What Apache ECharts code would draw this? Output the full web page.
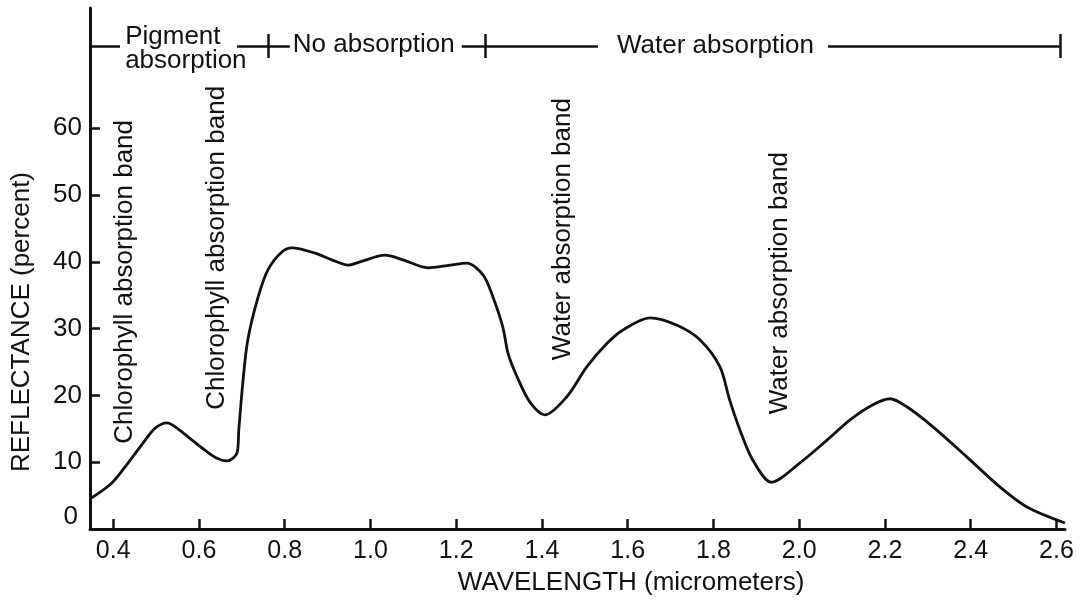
<!DOCTYPE html>
<html>
<head>
<meta charset="utf-8">
<script src="https://cdn.jsdelivr.net/npm/echarts@6/dist/echarts.min.js"></script>
<style>
  html, body { margin: 0; padding: 0; background: #fff; }
  #chart { width: 1086px; height: 602px; }
</style>
</head>
<body>
<div id="chart"></div>
<script>
var FONT = '"Liberation Sans", Arial, Helvetica, sans-serif';
var INK = '#111';

// spectral reflectance curve
var wavelength = [0.346, 0.397, 0.435, 0.47, 0.498, 0.526, 0.551, 0.584, 0.614, 0.642,
    0.666, 0.689, 0.693, 0.703, 0.714, 0.738, 0.761, 0.794, 0.817, 0.871,
    0.91, 0.948, 0.976, 1.034, 1.076, 1.134, 1.186, 1.225, 1.263, 1.286,
    1.309, 1.321, 1.342, 1.372, 1.407, 1.458, 1.505, 1.552, 1.589, 1.652,
    1.715, 1.769, 1.815, 1.838, 1.862, 1.892, 1.935, 2.002, 2.065, 2.118,
    2.172, 2.212, 2.251, 2.312, 2.391, 2.468, 2.531, 2.62];
var reflectance = [4.5, 6.9, 9.9, 12.9, 15.1, 15.9, 15.0, 13.3, 11.8, 10.6,
    10.2, 11.4, 14.8, 22.3, 28.3, 34.7, 38.8, 41.5, 42.1, 41.3,
    40.3, 39.5, 40.0, 41.0, 40.3, 39.1, 39.5, 39.8, 38.0, 34.7,
    30.2, 26.3, 22.8, 19.0, 17.1, 19.8, 24.3, 27.8, 29.8, 31.6,
    30.5, 28.3, 24.3, 19.3, 14.8, 10.3, 7.0, 9.9, 13.3, 16.3,
    18.6, 19.5, 18.3, 15.3, 10.8, 6.3, 3.3, 0.9];

var xTicks = [0.4, 0.6, 0.8, 1.0, 1.2, 1.4, 1.6, 1.8, 2.0, 2.2, 2.4, 2.6];
var yLabels = [0, 10, 20, 30, 40, 50, 60];
var yTicks = [10, 20, 30, 40, 50, 60];

// region bracket along the top
var bracketLevel = 72.3;
var bracketSegments = [[0.346, 0.416], [0.689, 0.812], [1.213, 1.531], [2.067, 2.608]];
var bracketStops = [0.761, 1.269, 2.608];
var regionNames = ['Pigment\nabsorption', 'No absorption', 'Water absorption'];
var regionAt = [[0.428, 71.9], [0.819, 72.5], [1.575, 72.3]];

// vertical band labels
var bandNames = ['Chlorophyll absorption band', 'Chlorophyll absorption band',
    'Water absorption band', 'Water absorption band'];
var bandAt = [[0.428, 37.0], [0.642, 42.1], [1.449, 44.9], [1.955, 36.8]];

var curve = wavelength.map(function (w, i) { return [w, reflectance[i]]; });

var bracketLines = bracketSegments.map(function (s) {
    return { coords: [[s[0], bracketLevel], [s[1], bracketLevel]] };
}).concat(bracketStops.map(function (w) {
    return { coords: [[w, bracketLevel - 1.8], [w, bracketLevel + 1.8]] };
}));

var noteLabel = {
    show: true,
    position: 'inside',
    formatter: '{b}',
    fontSize: 26,
    fontFamily: FONT,
    color: INK,
    opacity: 1,
    textBorderWidth: 0
};

var chart = echarts.init(document.getElementById('chart'));

chart.setOption({
    animation: false,
    backgroundColor: '#fff',
    textStyle: { fontFamily: FONT, color: INK },
    grid: { left: 90, right: 21, top: 8, bottom: 73 },
    xAxis: {
        type: 'value',
        min: 0.346,
        max: 2.62,
        axisLine: { lineStyle: { color: INK, width: 3 } },
        axisTick: {
            customValues: xTicks,
            inside: true,
            length: 10,
            lineStyle: { color: INK, width: 2.5 }
        },
        axisLabel: {
            customValues: xTicks,
            formatter: function (v) { return v.toFixed(1); },
            fontSize: 25,
            fontFamily: FONT,
            color: INK,
            margin: 10
        },
        splitLine: { show: false }
    },
    yAxis: {
        type: 'value',
        min: 0,
        max: 78,
        axisLine: { show: true, lineStyle: { color: INK, width: 3 } },
        axisTick: {
            show: true,
            customValues: yTicks,
            inside: true,
            length: 10,
            lineStyle: { color: INK, width: 2.5 }
        },
        axisLabel: {
            customValues: yLabels,
            formatter: function (v) { return v === 0 ? '{z|0}' : String(v); },
            fontSize: 26,
            fontFamily: FONT,
            color: INK,
            margin: 8,
            rich: {
                z: { fontSize: 26, fontFamily: FONT, color: INK, padding: [0, 4, 24, 0] }
            }
        },
        splitLine: { show: false }
    },
    graphic: [
        {
            type: 'text',
            x: 22,
            y: 322,
            rotation: Math.PI / 2,
            style: {
                text: 'REFLECTANCE (percent)',
                font: '26px ' + FONT,
                fill: INK,
                align: 'center',
                verticalAlign: 'middle',
                textAlign: 'center',
                textVerticalAlign: 'middle'
            }
        },
        {
            type: 'text',
            x: 631,
            y: 583,
            style: {
                text: 'WAVELENGTH (micrometers)',
                font: '26px ' + FONT,
                fill: INK,
                align: 'center',
                verticalAlign: 'middle',
                textAlign: 'center',
                textVerticalAlign: 'middle'
            }
        }
    ],
    series: [
        {
            type: 'line',
            data: curve,
            smooth: 0.3,
            showSymbol: false,
            lineStyle: { color: INK, width: 2.8 },
            z: 5
        },
        {
            type: 'lines',
            coordinateSystem: 'cartesian2d',
            data: bracketLines,
            lineStyle: { color: INK, width: 2.5, opacity: 1 },
            silent: true
        },
        {
            type: 'scatter',
            symbolSize: 0,
            silent: true,
            itemStyle: { opacity: 1 },
            data: regionAt.map(function (p, i) { return { value: p, name: regionNames[i] }; }),
            label: Object.assign({}, noteLabel, {
                align: 'left',
                verticalAlign: 'middle',
                lineHeight: 24
            })
        },
        {
            type: 'scatter',
            symbolSize: 0,
            silent: true,
            itemStyle: { opacity: 1 },
            data: bandAt.map(function (p, i) { return { value: p, name: bandNames[i] }; }),
            label: Object.assign({}, noteLabel, {
                rotate: 90,
                align: 'center',
                verticalAlign: 'middle'
            })
        }
    ]
});
</script>
</body>
</html>
